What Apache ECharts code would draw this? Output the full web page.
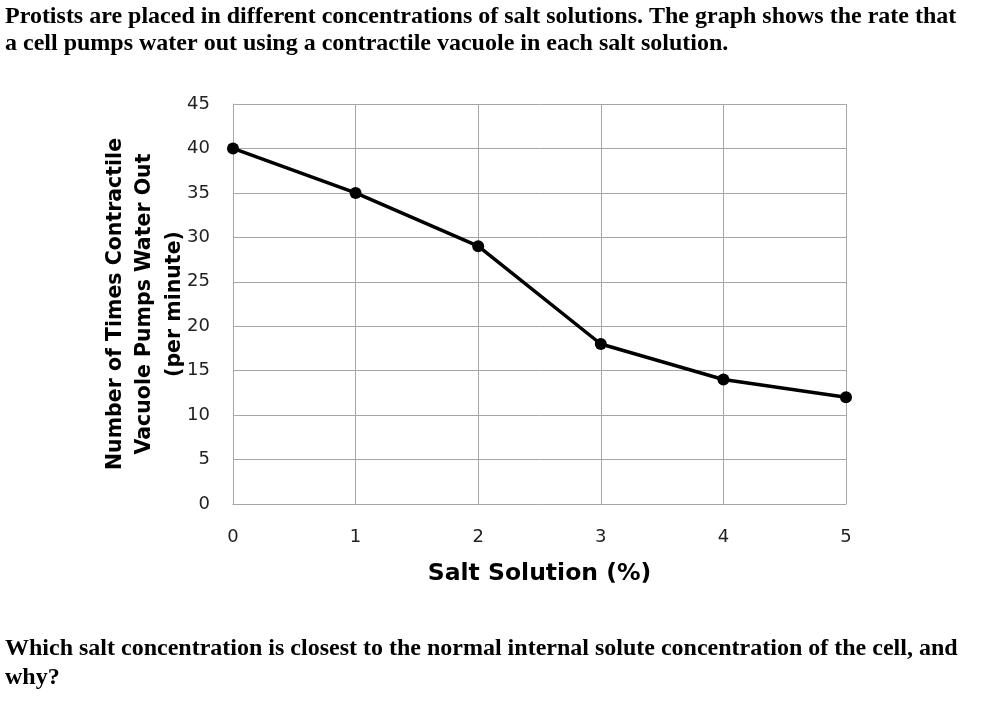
<!DOCTYPE html>
<html>
<head>
<meta charset="utf-8">
<script src="https://cdn.jsdelivr.net/npm/echarts@6/dist/echarts.min.js"></script>
<style>
  html, body { margin: 0; padding: 0; background: #fff; }
  #plot { width: 992px; height: 701px; }
</style>
</head>
<body>
<div id="plot"></div>
<script>
// 数据
var saltPercent = [0, 1, 2, 3, 4, 5];
var pumpRate = [40, 35, 29, 18, 14, 12];

var questionTop = 'Protists are placed in different concentrations of salt solutions. The graph shows the rate that\na cell pumps water out using a contractile vacuole in each salt solution.';
var questionBottom = 'Which salt concentration is closest to the normal internal solute concentration of the cell, and\nwhy?';
var xName = 'Salt Solution (%)';
var yName = 'Number of Times Contractile\nVacuole Pumps Water Out\n(per minute)';

var myChart = echarts.init(document.getElementById('plot'));

var axisFont = 'DejaVu Sans';
var gridColor = '#a6a6a6';

var option = {
  animation: false,
  title: [{
    text: questionTop,
    left: 5,
    top: 3,
    padding: 0,
    textStyle: {
      fontFamily: 'Liberation Serif',
      fontWeight: 'bold',
      fontSize: 24,
      lineHeight: 27,
      color: '#000'
    }
  }, {
    text: questionBottom,
    left: 5,
    top: 634,
    padding: 0,
    textStyle: {
      fontFamily: 'Liberation Serif',
      fontWeight: 'bold',
      fontSize: 24,
      lineHeight: 29,
      color: '#000'
    }
  }],
  grid: {
    left: 233,
    right: 146,
    top: 104,
    bottom: 197
  },
  xAxis: {
    type: 'value',
    min: 0,
    max: 5,
    interval: 1,
    name: xName,
    nameLocation: 'middle',
    nameGap: 58,
    nameTextStyle: {
      fontFamily: axisFont,
      fontWeight: 'bold',
      fontSize: 23.5,
      color: '#000'
    },
    axisLine: { show: true, lineStyle: { color: gridColor, width: 1 } },
    axisTick: { show: false },
    axisLabel: {
      margin: 24,
      fontFamily: axisFont,
      fontSize: 18,
      color: '#222'
    },
    splitLine: { show: true, lineStyle: { color: gridColor, width: 1 } }
  },
  yAxis: {
    type: 'value',
    min: 0,
    max: 45,
    interval: 5,
    name: yName,
    nameLocation: 'middle',
    nameRotate: 90,
    nameGap: 44,
    nameMoveOverlap: false,
    nameTextStyle: {
      fontFamily: axisFont,
      fontWeight: 'bold',
      fontSize: 20.5,
      lineHeight: 29.5,
      color: '#000'
    },
    axisLine: { show: true, lineStyle: { color: gridColor, width: 1 } },
    axisTick: { show: false },
    axisLabel: {
      margin: 23,
      fontFamily: axisFont,
      fontSize: 18,
      color: '#222'
    },
    splitLine: { show: true, lineStyle: { color: gridColor, width: 1 } }
  },
  series: [{
    type: 'line',
    data: saltPercent.map(function (x, i) { return [x, pumpRate[i]]; }),
    symbol: 'circle',
    symbolSize: 12,
    lineStyle: { color: '#000', width: 3.5 },
    itemStyle: { color: '#000' }
  }]
};

myChart.setOption(option);
</script>
</body>
</html>
